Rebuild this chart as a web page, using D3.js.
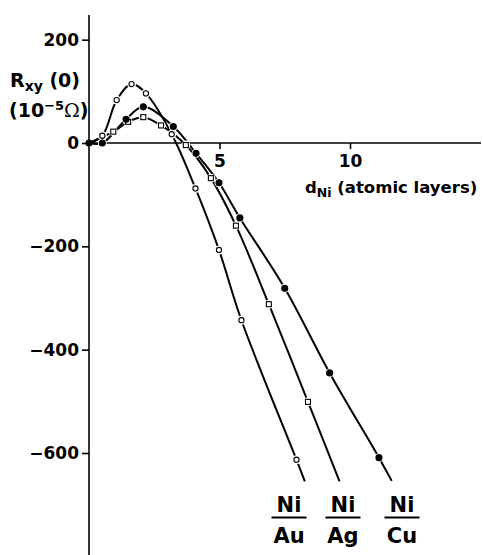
<html>
<script src="https://d3js.org/d3.v7.min.js"></script>
<style>
  body { margin: 0; background: white; }
  text { font-family: "DejaVu Sans", sans-serif; font-weight: bold; fill: black; }
</style>
<body>
<div id="chart"></div>
<script>
  // values: d_Ni (atomic layers) vs R_xy(0) (10^-5 ohm)
  const auX = [0, 0.51, 1.06, 1.63, 2.18, 3.17, 4.08, 4.98, 5.84, 7.95];
  const auY = [0, 14, 83, 114, 96, 17, -88, -207, -343, -613];
  const agX = [0, 0.93, 1.5, 2.08, 2.76, 3.71, 4.67, 5.63, 6.89, 8.39];
  const agY = [0, 22, 41, 50, 34, -4, -68, -160, -312, -501];
  const cuX = [0, 0.51, 1.42, 2.08, 3.23, 4.1, 4.98, 5.78, 7.5, 9.22, 11.11];
  const cuY = [0, 0, 46, 70, 32, -20, -77, -145, -281, -445, -609];
  // where each drawn line stops (no marker)
  const endX = [8.27, 9.6, 11.6];
  const endY = [-655, -655, -654];
  const seriesNames = ["Au", "Ag", "Cu"];
  const xTicks = [5, 10];
  const yTicks = [200, 0, -200, -400, -600];

  var width = 483, height = 555;

  var svg = d3.select("#chart").append("svg")
    .attr("width", width)
    .attr("height", height);

  var x = d3.scaleLinear().domain([0, 10]).range([89, 350]);
  var y = d3.scaleLinear().domain([0, -600]).range([143, 453]);

  // axes
  svg.append("line")
    .attr("x1", x(0)).attr("x2", x(0))
    .attr("y1", 15).attr("y2", height)
    .attr("stroke", "black").attr("stroke-width", 1.6);
  svg.append("line")
    .attr("x1", x(0)).attr("x2", 481)
    .attr("y1", y(0)).attr("y2", y(0))
    .attr("stroke", "black").attr("stroke-width", 1.6);

  var yAxis = svg.append("g")
    .attr("transform", "translate(" + x(0) + ",0)")
    .call(d3.axisLeft(y).tickValues(yTicks).tickSize(7).tickPadding(3)
      .tickFormat(d => d < 0 ? "\u2212" + Math.abs(d) : d));
  yAxis.select(".domain").remove();
  yAxis.selectAll("line").attr("stroke-width", 1.6);
  yAxis.selectAll("text").style("font-size", "17px").attr("font-family", null);

  var xAxis = svg.append("g")
    .attr("transform", "translate(0," + y(0) + ")")
    .call(d3.axisBottom(x).tickValues(xTicks).tickSize(6).tickPadding(6));
  xAxis.select(".domain").remove();
  xAxis.selectAll("line").attr("stroke-width", 1.6);
  xAxis.selectAll("text").style("font-size", "17px").attr("font-family", null);

  // axis titles
  var yl = svg.append("text").attr("x", 10).attr("y", 87).style("font-size", "19px");
  yl.append("tspan").text("R");
  yl.append("tspan").attr("dy", 4).style("font-size", "14px").text("xy");
  yl.append("tspan").attr("dy", -4).text(" (0)");

  var yl2 = svg.append("text").attr("x", 9).attr("y", 117).style("font-size", "19px");
  yl2.append("tspan").text("(10");
  yl2.append("tspan").attr("dy", -7).style("font-size", "13px").text("\u22125");
  yl2.append("tspan").attr("dy", 7).style("font-weight", "normal").style("font-family", "DejaVu Serif").text("\u03A9");
  yl2.append("tspan").text(")");

  var xl = svg.append("text").attr("x", 305).attr("y", 193).style("font-size", "16.5px");
  xl.append("tspan").text("d");
  xl.append("tspan").attr("dy", 4).style("font-size", "12.5px").text("Ni");
  xl.append("tspan").attr("dy", -4).text("  (atomic layers)");

  // curves
  var series = [
    { name: "Au", xs: auX, ys: auY, marker: "open" },
    { name: "Ag", xs: agX, ys: agY, marker: "square" },
    { name: "Cu", xs: cuX, ys: cuY, marker: "filled" }
  ];

  var line = d3.line()
    .x(d => x(d[0]))
    .y(d => y(d[1]))
    .curve(d3.curveCatmullRom.alpha(0.5));

  series.forEach(function (s, i) {
    var pts = s.xs.map((v, j) => [v, s.ys[j]]);
    pts.push([endX[i], endY[i]]);
    svg.append("path")
      .attr("d", line(pts))
      .attr("fill", "none")
      .attr("stroke", "black")
      .attr("stroke-width", 2);
  });

  // white gaps round the markers
  series.forEach(function (s) {
    svg.selectAll(null)
      .data(s.xs.map((v, j) => [v, s.ys[j]]).slice(1))
      .enter().append("circle")
      .attr("cx", d => x(d[0]))
      .attr("cy", d => y(d[1]))
      .attr("r", 4.5)
      .attr("fill", "white");
  });

  series.forEach(function (s) {
    var pts = s.xs.map((v, j) => [v, s.ys[j]]);
    if (s.marker !== "filled") pts = pts.slice(1);
    if (s.marker === "square") {
      svg.selectAll(null).data(pts).enter().append("rect")
        .attr("x", d => x(d[0]) - 2.5)
        .attr("y", d => y(d[1]) - 2.5)
        .attr("width", 5).attr("height", 5)
        .attr("fill", "white").attr("stroke", "black").attr("stroke-width", 1.1);
    } else {
      svg.selectAll(null).data(pts).enter().append("circle")
        .attr("cx", d => x(d[0]))
        .attr("cy", d => y(d[1]))
        .attr("r", s.marker === "filled" ? 3 : 2.6)
        .attr("fill", s.marker === "filled" ? "black" : "white")
        .attr("stroke", "black").attr("stroke-width", 1.1);
    }
  });

  // Ni / X labels at the ends of the lines
  var labelX = [289, 343, 402];
  seriesNames.forEach(function (n, i) {
    svg.append("text").attr("x", labelX[i]).attr("y", 512)
      .attr("text-anchor", "middle").style("font-size", "21px").text("Ni");
    svg.append("line")
      .attr("x1", labelX[i] - 17.5).attr("x2", labelX[i] + 17.5)
      .attr("y1", 517.5).attr("y2", 517.5)
      .attr("stroke", "black").attr("stroke-width", 2.2);
    svg.append("text").attr("x", labelX[i]).attr("y", 543)
      .attr("text-anchor", "middle").style("font-size", "21px").text(n);
  });
</script>
</body>
</html>
